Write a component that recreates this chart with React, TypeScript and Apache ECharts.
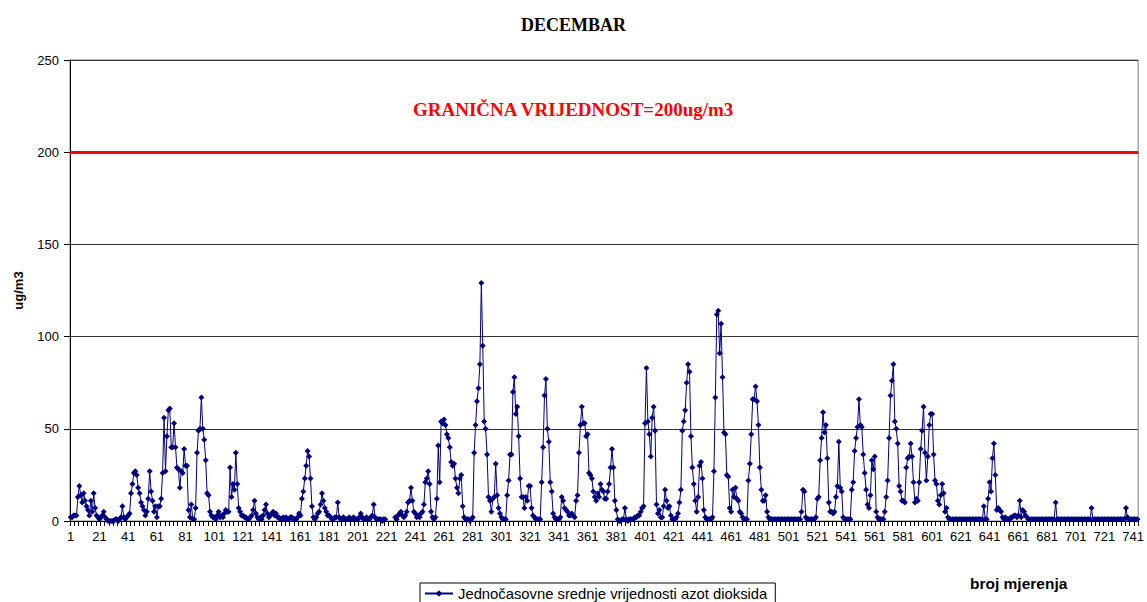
import React, { useEffect, useRef } from "react";
import * as echarts from "echarts";

// Hourly NO2 means, December (744 hours). null = missing measurement.
const h001to021 = [2, 2, 3, 3, 3, 13, 19, 14, 10, 15, 11, 8, 6, 3, 11, 5, 15, 7, 3, 2, 1];
const h022to042 = [2, 3, 5, 2, 1, 0, 0, 0, 0, 0, 1, 1, 0, 1, 2, 8, 2, 1, 2, 3, 4];
const h043to066 = [15, 20, 26, 27, 25, 18, 15, 10, 8, 6, 3, 5, 12, 27, 16, 11, 5, 8, 2, 8, 8, 12, 26, 56];
const h067to090 = [27, 46, 60, 61, 40, 40, 53, 40, 29, 28, 18, 27, 26, 39, 30, 30, 6, 2, 9, 1, 1, 7, 37, 49];
const h091to120 = [50, 67, 50, 44, 33, 15, 14, 5, 3, 2, 2, 1, 3, 5, 2, 3, 2, 4, 6, 5, 5, 29, 13, 20, 17, 37, 20, 7, 5, 3];
const h121to160 = [3, 2, 2, 1, 1, 2, 3, 6, 11, 4, 2, 1, 2, 1, 3, 6, 9, 4, 2, 3, 4, 5, 3, 4, 2, 2, 1, 1, 2, 1, 2, 1, 1, 2, 2, 1, 1, 1, 2, 4];
const h161to180 = [3, 12, 16, 23, 30, 38, 35, 23, 8, 2, 1, 2, 4, 5, 9, 15, 11, 7, 5, 3];
const h181to220 = [3, 2, 1, 1, 2, 2, 10, 2, 1, 1, 2, 1, 1, 1, 2, 1, 1, 2, 1, 1, 1, 2, 4, 2, 1, 1, 2, 1, 1, 2, 3, 9, 2, 1, 1, 1, 1, 0, 1, 1];
const h221to226 = [null, null, null, null, null, null];
const h227to240 = [2, 1, 3, 4, 5, 3, 2, 3, 5, 10, 11, 18, 11, 5];
const h241to260 = [4, 2, 3, 2, 4, 5, 9, 21, 23, 27, 20, 5, 2, 1, 2, 12, 41, 21, 54, 53];
const h261to280 = [55, 52, 47, 45, 40, 32, 30, 31, 23, 18, 15, 23, 25, 8, 2, 1, 1, 1, 0, 1];
const h281to300 = [2, 37, 52, 65, 72, 85, 129, 95, 54, 50, 36, 13, 11, 5, 12, 13, 31, 14, 7, 4];
const h301to320 = [2, 1, 1, 1, 14, 22, 36, 36, 70, 78, 58, 62, 46, 23, 13, 13, 7, 13, 11, 19];
const h321to340 = [19, 7, 3, 2, 1, 1, 1, 1, 21, 40, 68, 77, 50, 43, 21, 16, 4, 2, 1, 1];
const h341to360 = [1, 2, 13, 11, 7, 6, 5, 3, 3, 4, 3, 2, 11, 14, 37, 52, 62, 53, 53, 46];
const h361to380 = [47, 26, 25, 23, 16, 13, 11, 15, 13, 20, 17, 16, 12, 12, 16, 20, 29, 39, 29, 11];
const h381to400 = [6, 1, 0, 0, 1, 1, 7, 1, 0, 1, 1, 1, 1, 2, 2, 3, 3, 5, 7, 8];
const h401to420 = [53, 83, 54, 47, 35, 56, 62, 49, 9, 4, 6, 2, 2, 8, 17, 11, 7, 8, 3, 1];
const h421to440 = [1, 1, 2, 4, 10, 17, 49, 54, 60, 75, 85, 81, 46, 29, 20, 11, 5, 13, 30, 32];
const h441to460 = [23, 6, 2, 1, 1, 1, 1, 2, 27, 67, 112, 114, 91, 107, 78, 48, 47, 25, 24, 7];
const h461to480 = [5, 17, 13, 18, 12, 11, 5, 4, 2, 1, 1, 1, 22, 31, 47, 66, 66, 73, 65, 52];
const h481to500 = [29, 17, 11, 11, 14, 5, 2, 1, 1, 1, 1, 1, 1, 1, 1, 1, 1, 1, 1, 1];
const h501to520 = [1, 1, 1, 1, 1, 1, 1, 1, 1, 5, 17, 16, 2, 1, 1, 1, 1, 1, 1, 2];
const h521to540 = [12, 13, 33, 45, 59, 48, 52, 34, 10, 5, 5, 4, 5, 13, 19, 43, 18, 16, 2, 1];
const h541to560 = [1, 1, 1, 1, 17, 21, 38, 45, 51, 66, 52, 51, 36, 26, 17, 9, 7, 14, 33, 28];
const h561to580 = [35, 5, 2, 1, 1, 1, 1, 5, 13, 22, 45, 68, 76, 85, 54, 50, 42, 19, 16, 11];
const h581to600 = [11, 10, 29, 34, 35, 42, 35, 21, 10, 12, 11, 21, 39, 49, 62, 37, 22, 35, 52, 58];
const h601to620 = [58, 36, 22, 20, 11, 9, 14, 20, 15, 5, 7, 2, 1, 1, 1, 1, 1, 1, 1, 1];
const h621to640 = [1, 1, 1, 1, 1, 1, 1, 1, 1, 1, 1, 1, 1, 1, 1, 1, 8, 1, 1, 12];
const h641to660 = [21, 16, 34, 42, 25, 6, 7, 6, 5, 2, 1, 2, 1, 1, 1, 2, 2, 3, 3, 2];
const h661to680 = [3, 11, 2, 6, 5, 3, 2, 1, 1, 1, 1, 1, 1, 1, 1, 1, 1, 1, 1, 1];
const h681to700 = [1, 1, 1, 1, 1, 1, 10, 1, 1, 1, 1, 1, 1, 1, 1, 1, 1, 1, 1, 1];
const h701to720 = [1, 1, 1, 1, 1, 1, 1, 1, 1, 1, 1, 7, 1, 1, 1, 1, 1, 1, 1, 1];
const h721to744 = [1, 1, 1, 1, 1, 1, 1, 1, 1, 1, 1, 1, 1, 1, 1, 7, 2, 1, 1, 1, 1, 1, 1, 1];

const no2Values: (number | null)[] = [
  ...h001to021, ...h022to042, ...h043to066, ...h067to090, ...h091to120,
  ...h121to160, ...h161to180, ...h181to220, ...h221to226, ...h227to240,
  ...h241to260, ...h261to280, ...h281to300, ...h301to320, ...h321to340,
  ...h341to360, ...h361to380, ...h381to400, ...h401to420, ...h421to440,
  ...h441to460, ...h461to480, ...h481to500, ...h501to520, ...h521to540,
  ...h541to560, ...h561to580, ...h581to600, ...h601to620, ...h621to640,
  ...h641to660, ...h661to680, ...h681to700, ...h701to720, ...h721to744,
];

const categories: string[] = no2Values.map((_, i) => String(i + 1));
const limitValue = 200;
const yTicks = [0, 50, 100, 150, 200, 250];

const titleText = "DECEMBAR";
const limitText = "GRANIČNA VRIJEDNOST=200ug/m3";
const seriesName = "Jednočasovne srednje vrijednosti azot dioksida";
const yName = "ug/m3";
const xName = "broj mjerenja";

export default function App() {
  const ref = useRef<HTMLDivElement>(null);

  useEffect(() => {
    document.body.style.margin = "0";
    if (!ref.current) return;
    const chart = echarts.init(ref.current, undefined, { renderer: "svg" });
    const sans = "'Liberation Sans', Arial, sans-serif";
    const serif = "'Liberation Serif', 'Times New Roman', serif";
    chart.setOption({
      animation: false,
      backgroundColor: "#ffffff",
      title: {
        text: titleText,
        left: "center",
        top: 11,
        textStyle: { fontFamily: serif, fontSize: 18, fontWeight: "bold", color: "#000" },
      },
      legend: {
        data: [seriesName],
        left: 420,
        top: 583,
        borderColor: "#000",
        borderWidth: 1,
        padding: [3, 8, 8, 4],
        itemWidth: 28,
        itemHeight: 8,
        itemGap: 4,
        textStyle: { fontFamily: sans, fontSize: 14.8, color: "#000" },
      },
      grid: {
        left: 70,
        right: 7,
        top: 60,
        bottom: 81,
        show: true,
        borderColor: "#808080",
        borderWidth: 1,
      },
      xAxis: {
        type: "category",
        data: categories,
        boundaryGap: true,
        axisLine: { lineStyle: { color: "#000", width: 1 } },
        axisTick: { show: true, interval: 2, length: 5, lineStyle: { color: "#000" } },
        axisLabel: {
          interval: 19,
          margin: 9,
          fontFamily: sans,
          fontSize: 13,
          color: "#000",
        },
        splitLine: { show: false },
      },
      yAxis: {
        type: "value",
        min: yTicks[0],
        max: yTicks[yTicks.length - 1],
        interval: 50,
        name: yName,
        nameLocation: "middle",
        nameGap: 45,
        nameTextStyle: { fontFamily: sans, fontSize: 13, fontWeight: "bold", color: "#000" },
        axisLine: { show: true, lineStyle: { color: "#000", width: 1 } },
        axisTick: { show: true, length: 6, lineStyle: { color: "#000" } },
        axisLabel: { fontFamily: sans, fontSize: 13, color: "#000", margin: 11 },
        splitLine: { show: true, lineStyle: { color: "#333", width: 1 } },
      },
      graphic: [
        {
          type: "text",
          left: 413,
          top: 100,
          style: { text: limitText, fill: "#ff0000", font: `bold 19px ${serif}` },
        },
        {
          type: "text",
          left: 970,
          top: 575,
          style: { text: xName, fill: "#000", font: `bold 15.5px ${sans}` },
        },
      ],
      series: [
        {
          name: seriesName,
          type: "line",
          data: no2Values,
          connectNulls: false,
          symbol: "diamond",
          symbolSize: 6,
          showSymbol: true,
          showAllSymbol: true,
          itemStyle: { color: "#000080" },
          lineStyle: { color: "#000080", width: 1 },
          markLine: {
            silent: true,
            symbol: "none",
            label: { show: false },
            lineStyle: { color: "#ff0000", width: 3, type: "solid" },
            data: [{ yAxis: limitValue }],
          },
        },
      ],
    });
    return () => chart.dispose();
  }, []);

  return <div ref={ref} style={{ width: 1147, height: 602 }} />;
}
